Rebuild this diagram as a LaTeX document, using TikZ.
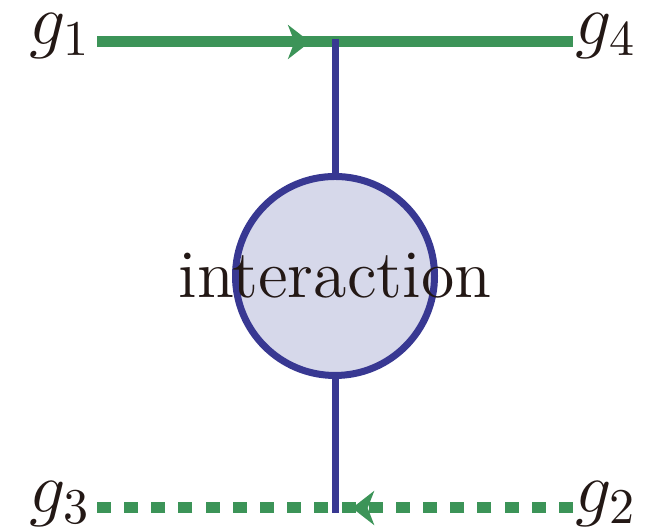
\documentclass[tikz,border=0pt]{standalone}
\usetikzlibrary{
  arrows.meta,
  decorations.markings,
  positioning
}
\definecolor{gluongreen}{RGB}{60,148,88}
\definecolor{blobblue}{RGB}{56,56,146}
\definecolor{blobfill}{RGB}{214,216,234}
\definecolor{inkblack}{RGB}{35,24,21}
\tikzset{
  extleg/.style={
    draw, color=gluongreen, line width=2.2pt,
    postaction={decorate},
    decoration={markings, mark=at position #1 with
      {\arrow{Stealth[length=4.4pt,width=6.8pt,inset=1.3pt]}}}
  },
  dashleg/.style={
    extleg=#1, dash pattern=on 2.8pt off 2.636pt
  },
  blob/.style={
    circle, draw=blobblue, fill=blobfill, line width=1.4pt,
    minimum size=39.8pt, inner sep=0pt
  },
  stem/.style={
    draw=blobblue, line width=1.4pt
  },
  glabel/.style={
    font=\fontsize{14}{17}\selectfont, text=inkblack,
    anchor=base, inner sep=0pt
  },
  bloblabel/.style={
    font=\fontsize{13.6}{16}\selectfont, text=inkblack,
    inner sep=0pt
  },
}
\begin{document}
\begin{tikzpicture}[x=0.2pt, y=0.2pt]

  \useasboundingbox (0,0) rectangle (665,529);

  %% leg ends
  \coordinate (e1) at (97,487);
  \coordinate (e4) at (573,487);
  \coordinate (e3) at (97,21);
  \coordinate (e2) at (573,21);

  %% labels
  \node[glabel] (g1) at (60,484) {$g_1$};
  \node[glabel] (g4) at (606,484) {$g_4$};
  \node[glabel] (g3) at (60,16) {$g_3$};
  \node[glabel] (g2) at (606,16) {$g_2$};

  %% external legs
  \draw[extleg=0.4475] (e1) -- (e4);
  \draw[dashleg=0.464] (e2) -- (e3);

  %% interaction blob
  \node[blob] (int) at (335,253) {};
  \coordinate (v1) at (335,490);
  \coordinate (v2) at (335,16);
  \draw[stem] (v1) -- (int.north);
  \draw[stem] (int.south) -- (v2);

  \node[bloblabel] (lbl) at (int) {interaction};

\end{tikzpicture}
\end{document}
